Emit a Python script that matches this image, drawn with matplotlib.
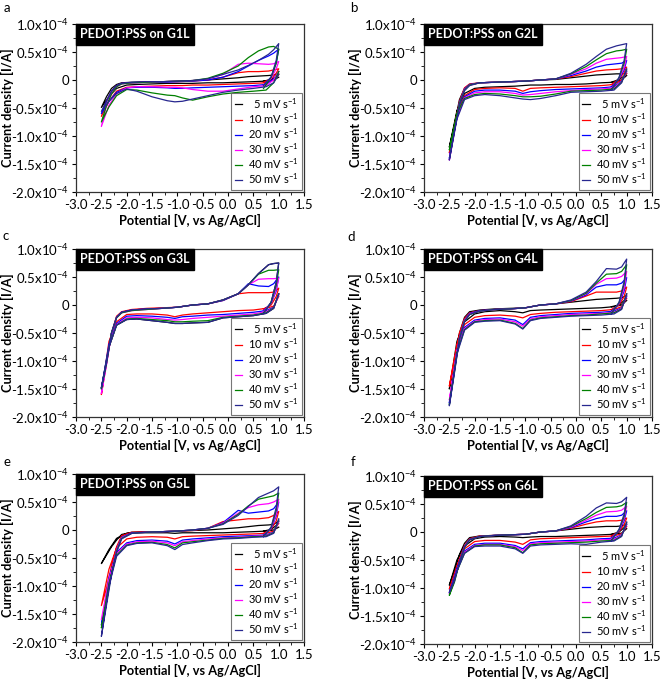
# Cyclic voltammograms of PEDOT:PSS on G1L..G6L at six scan rates
import matplotlib
matplotlib.use("Agg")
from matplotlib import pyplot as plt
from matplotlib.ticker import MultipleLocator, FixedLocator

plt.rcParams["font.family"] = ["Lato", "DejaVu Sans"]
plt.rcParams["mathtext.default"] = "regular"

# potential of each sample point along one cycle [V vs Ag/AgCl]:
# start at 1.0 V, sweep down to -2.5 V, back up to 1.0 V, then the turn-around
potential = [1.0, 0.9, 0.75, 0.5, 0.2, -0.1, -0.4, -0.7, -0.9, -1.05, -1.2, -1.5, -1.8, -2.0, -2.2, -2.35, -2.5,
             -2.4, -2.3, -2.2, -2.1, -1.9, -1.6, -1.3, -1.0, -0.7, -0.4, -0.1, 0.2, 0.4, 0.6, 0.8, 0.9, 1.0,
             0.95, 0.85, 0.7]

scan_rates = [5, 10, 20, 30, 40, 50]
colors = ["black", "red", "blue", "magenta", "green", "#27278f"]
samples = ["G1L", "G2L", "G3L", "G4L", "G5L", "G6L"]
letters = ["a", "b", "c", "d", "e", "f"]

# current in units of 1e-5 A, one list per scan rate (5..50 mV/s)
g1l = [
    [0.5, 0.0, -0.2, -0.3, -0.4, -0.5, -0.5, -0.6, -0.6, -0.6, -0.6, -0.7, -0.8, -0.9, -1.5, -3.0, -4.9,
     -3.0, -1.5, -0.8, -0.5, -0.4, -0.3, -0.3, -0.2, -0.1, 0.0, 0.2, 0.4, 0.6, 0.7, 0.8, 0.9, 1.1, 0.6, 0.1, -0.2],
    [1.0, 0.0, -0.5, -0.6, -0.7, -0.8, -0.9, -0.9, -1.0, -1.0, -1.0, -1.1, -1.2, -1.3, -2.0, -3.8, -6.5,
     -3.8, -2.0, -1.0, -0.6, -0.5, -0.4, -0.3, -0.3, -0.2, 0.0, 0.5, 1.3, 1.5, 1.5, 1.6, 1.8, 2.0, 1.2, 0.2, -0.4],
    [1.5, 0.2, -0.8, -1.0, -1.1, -1.2, -1.3, -1.4, -1.5, -1.5, -1.4, -1.3, -1.3, -1.4, -2.2, -3.8, -6.0,
     -3.8, -2.0, -1.0, -0.6, -0.5, -0.4, -0.4, -0.3, -0.2, 0.0, 0.5, 1.5, 2.5, 3.5, 4.3, 4.8, 5.5, 3.0, 0.5, -0.9],
    [1.5, 0.0, -1.0, -1.2, -1.6, -2.0, -2.0, -1.7, -1.4, -1.3, -1.3, -1.2, -1.2, -1.4, -2.5, -4.5, -8.3,
     -4.5, -2.5, -1.2, -0.7, -0.5, -0.4, -0.3, -0.2, -0.1, 0.2, 1.0, 2.8, 3.0, 2.9, 2.8, 2.9, 3.3, 2.0, 0.3, -1.0],
    [1.5, -0.5, -1.8, -2.0, -2.2, -2.5, -3.0, -3.6, -3.2, -2.8, -2.7, -2.3, -1.8, -1.7, -2.8, -4.8, -7.5,
     -4.6, -2.5, -1.2, -0.7, -0.5, -0.4, -0.3, -0.2, -0.1, 0.3, 1.2, 2.5, 4.0, 5.2, 5.9, 6.0, 5.5, 3.0, 0.5, -1.5],
    [1.0, -0.5, -1.2, -1.5, -1.8, -2.2, -2.8, -3.4, -3.8, -3.9, -3.7, -3.0, -2.0, -1.6, -2.4, -3.8, -5.6,
     -3.8, -2.0, -1.0, -0.6, -0.4, -0.3, -0.3, -0.2, -0.1, 0.2, 1.0, 1.8, 2.6, 3.5, 4.6, 5.4, 6.5, 3.5, 0.5, -1.0],
]
g2l = [
    [0.8, 0.0, -0.4, -0.5, -0.7, -0.8, -0.8, -0.9, -0.9, -1.0, -1.1, -1.2, -1.3, -1.5, -2.4, -5.5, -12.0,
     -8.0, -3.5, -1.5, -0.8, -0.5, -0.4, -0.3, -0.2, 0.0, 0.1, 0.4, 0.7, 0.9, 1.0, 1.1, 1.1, 1.2, 0.7, 0.1, -0.4],
    [1.2, 0.0, -0.8, -1.0, -1.1, -1.2, -1.3, -1.4, -1.5, -2.0, -1.5, -1.4, -1.5, -1.7, -2.8, -6.0, -13.0,
     -8.5, -3.8, -1.4, -0.7, -0.5, -0.4, -0.3, -0.2, 0.0, 0.2, 0.6, 1.2, 1.6, 1.8, 1.9, 2.0, 2.3, 1.3, 0.2, -0.8],
    [1.5, -0.2, -1.2, -1.4, -1.5, -1.6, -1.7, -1.9, -2.1, -2.4, -2.0, -1.8, -1.8, -2.0, -3.0, -6.5, -14.0,
     -8.8, -4.0, -1.6, -0.8, -0.5, -0.4, -0.3, -0.2, 0.0, 0.2, 0.8, 1.6, 2.3, 2.7, 2.9, 3.0, 3.5, 1.8, 0.2, -1.2],
    [1.6, -0.3, -1.4, -1.6, -1.7, -1.9, -2.1, -2.4, -2.6, -2.7, -2.4, -2.1, -2.1, -2.3, -3.2, -6.8, -14.3,
     -9.0, -4.2, -1.7, -0.9, -0.5, -0.4, -0.3, -0.2, 0.0, 0.2, 1.0, 2.0, 3.0, 3.7, 3.9, 4.0, 4.2, 2.2, 0.3, -1.5],
    [1.8, -0.4, -1.6, -1.8, -1.9, -2.0, -2.5, -2.9, -3.0, -3.0, -2.8, -2.5, -2.4, -2.6, -3.3, -6.0, -12.5,
     -8.5, -4.2, -1.8, -0.9, -0.5, -0.4, -0.3, -0.2, 0.0, 0.2, 1.1, 2.4, 3.6, 4.7, 5.2, 5.3, 5.5, 3.0, 0.4, -1.7],
    [2.0, -0.5, -1.8, -2.0, -2.1, -2.2, -2.8, -3.3, -3.5, -3.4, -3.2, -2.8, -2.6, -2.8, -3.5, -7.0, -14.3,
     -9.2, -4.5, -1.9, -1.0, -0.5, -0.4, -0.3, -0.2, 0.0, 0.2, 1.2, 2.8, 4.2, 5.5, 6.1, 6.3, 6.5, 3.5, 0.5, -1.8],
]
g3l = [
    [2.0, -0.6, -1.5, -1.9, -2.1, -2.3, -3.1, -3.2, -3.3, -3.3, -3.1, -2.8, -2.5, -2.6, -3.6, -7.5, -14.8,
     -10.3, -5.0, -2.2, -1.3, -0.9, -0.7, -0.6, -0.4, 0.0, 0.2, 0.9, 2.0, 3.6, 5.6, 7.2, 7.4, 7.5, 4.0, 0.5, -1.5],
    [1.5, -0.2, -0.6, -0.9, -1.0, -1.2, -1.4, -1.6, -1.8, -2.1, -1.8, -1.6, -1.6, -1.7, -3.0, -6.5, -16.0,
     -10.5, -5.0, -2.0, -1.2, -0.8, -0.6, -0.5, -0.4, 0.0, 0.2, 0.8, 2.0, 2.2, 2.2, 2.2, 2.3, 3.0, 1.5, 0.0, -0.7],
    [1.8, -0.4, -1.0, -1.3, -1.5, -1.7, -1.8, -2.0, -2.1, -2.4, -2.2, -2.0, -1.9, -2.0, -3.3, -7.0, -15.0,
     -10.5, -5.0, -2.2, -1.3, -0.9, -0.7, -0.6, -0.4, 0.0, 0.2, 0.8, 2.0, 3.8, 3.4, 3.3, 3.8, 5.0, 2.5, 0.3, -1.0],
    [1.8, -0.5, -1.2, -1.6, -1.8, -2.0, -2.2, -2.4, -2.6, -2.7, -2.6, -2.3, -2.2, -2.3, -3.5, -7.5, -15.8,
     -10.8, -5.2, -2.3, -1.4, -1.0, -0.8, -0.6, -0.4, 0.0, 0.2, 0.9, 2.0, 3.6, 4.6, 4.7, 4.7, 4.8, 2.8, 0.3, -1.2],
    [2.0, -0.5, -1.4, -1.8, -2.0, -2.2, -2.8, -2.9, -3.0, -3.0, -2.8, -2.6, -2.4, -2.5, -3.6, -7.5, -15.0,
     -10.5, -5.0, -2.3, -1.4, -1.0, -0.8, -0.6, -0.4, 0.0, 0.2, 0.9, 2.0, 3.6, 5.5, 6.2, 6.2, 6.3, 3.5, 0.4, -1.4],
    [2.0, -0.6, -1.5, -1.9, -2.1, -2.3, -3.1, -3.2, -3.3, -3.3, -3.1, -2.8, -2.5, -2.6, -3.6, -7.5, -14.8,
     -10.3, -5.0, -2.2, -1.3, -0.9, -0.7, -0.6, -0.4, 0.0, 0.2, 0.9, 2.0, 3.6, 5.6, 7.2, 7.4, 7.5, 4.0, 0.5, -1.5],
]
g4l = [
    [0.8, 0.0, -0.3, -0.5, -0.6, -0.7, -0.8, -0.9, -1.0, -1.4, -1.2, -1.0, -1.2, -1.6, -3.0, -6.5, -15.0,
     -10.0, -5.0, -2.2, -1.2, -0.9, -0.7, -0.6, -0.5, 0.0, 0.2, 0.5, 0.8, 1.0, 1.1, 1.2, 1.3, 1.7, 0.8, 0.0, -0.3],
    [1.2, -0.3, -0.8, -1.0, -1.1, -1.2, -1.3, -1.5, -1.7, -2.3, -2.0, -1.8, -1.9, -2.2, -3.5, -7.0, -14.5,
     -10.0, -5.0, -2.4, -1.4, -1.0, -0.8, -0.7, -0.5, 0.0, 0.2, 0.6, 1.6, 2.3, 2.3, 2.3, 2.5, 3.2, 1.5, 0.0, -0.8],
    [1.5, -0.5, -1.1, -1.3, -1.4, -1.5, -1.7, -1.9, -2.2, -3.5, -2.7, -2.3, -2.4, -2.7, -4.0, -8.0, -17.5,
     -11.5, -5.8, -2.7, -1.5, -1.0, -0.8, -0.7, -0.5, 0.0, 0.2, 0.7, 1.8, 3.2, 3.6, 3.6, 3.9, 4.9, 2.5, 0.2, -1.1],
    [1.8, -0.6, -1.3, -1.5, -1.6, -1.7, -1.9, -2.1, -2.5, -3.8, -3.0, -2.5, -2.6, -2.9, -4.2, -8.2, -17.0,
     -11.5, -5.9, -2.8, -1.6, -1.1, -0.8, -0.7, -0.5, 0.0, 0.2, 0.8, 2.0, 3.7, 4.7, 4.8, 5.1, 6.0, 3.0, 0.3, -1.3],
    [2.0, -0.7, -1.4, -1.6, -1.8, -1.9, -2.1, -2.3, -2.7, -4.2, -3.3, -2.7, -2.8, -3.0, -4.4, -8.5, -17.8,
     -12.0, -6.0, -2.9, -1.7, -1.1, -0.8, -0.7, -0.5, 0.0, 0.2, 0.8, 2.1, 3.9, 5.5, 5.6, 6.0, 7.2, 3.8, 0.4, -1.4],
    [2.0, -0.8, -1.6, -1.8, -1.9, -2.0, -2.2, -2.4, -2.8, -4.3, -3.4, -2.8, -2.9, -3.1, -4.5, -8.8, -18.0,
     -12.2, -6.1, -3.0, -1.7, -1.1, -0.8, -0.7, -0.5, 0.0, 0.2, 0.9, 2.3, 4.2, 6.5, 6.4, 6.8, 8.2, 4.2, 0.5, -1.6],
]
g5l = [
    [0.5, 0.0, -0.2, -0.3, -0.4, -0.5, -0.5, -0.5, -0.5, -0.6, -0.5, -0.5, -0.5, -0.6, -1.5, -3.5, -6.0,
     -4.5, -3.0, -1.8, -0.8, -0.4, -0.3, -0.3, -0.2, -0.1, 0.0, 0.2, 0.4, 0.6, 0.8, 0.9, 1.0, 1.6, 0.8, 0.1, -0.2],
    [1.2, -0.2, -0.6, -0.7, -0.8, -0.9, -1.0, -1.1, -1.2, -1.6, -1.3, -1.2, -1.3, -1.6, -3.2, -7.0, -13.5,
     -10.5, -6.5, -3.0, -1.0, -0.4, -0.3, -0.3, -0.2, -0.1, 0.3, 1.5, 1.8, 2.0, 2.0, 2.2, 2.6, 3.3, 1.6, 0.1, -0.6],
    [1.5, -0.4, -0.9, -1.0, -1.1, -1.2, -1.4, -1.6, -1.8, -2.5, -2.0, -1.8, -1.9, -2.3, -4.0, -8.5, -17.0,
     -12.5, -7.5, -3.5, -1.3, -0.5, -0.4, -0.3, -0.2, 0.0, 0.3, 1.3, 3.5, 3.0, 3.2, 3.4, 3.8, 5.0, 2.5, 0.2, -0.9],
    [1.6, -0.5, -1.0, -1.1, -1.3, -1.4, -1.6, -1.9, -2.1, -2.8, -2.3, -2.0, -2.1, -2.5, -4.2, -8.8, -16.0,
     -12.5, -7.5, -3.6, -1.4, -0.6, -0.4, -0.3, -0.2, 0.0, 0.3, 1.2, 3.0, 4.0, 4.5, 4.7, 5.0, 5.5, 2.8, 0.3, -1.0],
    [1.8, -0.5, -1.1, -1.2, -1.4, -1.5, -1.8, -2.1, -2.3, -3.2, -2.6, -2.2, -2.3, -2.7, -4.5, -9.5, -17.5,
     -13.0, -7.8, -3.8, -1.5, -0.6, -0.4, -0.3, -0.2, 0.0, 0.3, 1.1, 2.8, 4.3, 5.5, 5.9, 6.1, 6.6, 3.5, 0.4, -1.1],
    [2.0, -0.6, -1.2, -1.3, -1.5, -1.6, -1.9, -2.3, -2.6, -3.5, -2.8, -2.3, -2.4, -2.8, -4.7, -10.0, -19.0,
     -13.5, -8.0, -4.0, -1.6, -0.6, -0.4, -0.3, -0.2, 0.0, 0.3, 1.0, 2.6, 4.2, 5.8, 6.6, 7.0, 7.7, 4.0, 0.5, -1.2],
]
g6l = [
    [0.6, -0.2, -0.4, -0.5, -0.6, -0.7, -0.8, -0.8, -0.9, -1.0, -0.9, -0.8, -0.9, -1.2, -2.5, -5.0, -9.5,
     -7.0, -4.0, -2.0, -1.0, -0.7, -0.6, -0.5, -0.4, 0.0, 0.2, 0.5, 0.8, 0.9, 1.0, 1.0, 1.1, 1.4, 0.8, 0.0, -0.4],
    [1.0, -0.3, -0.7, -0.8, -0.9, -1.0, -1.1, -1.2, -1.4, -2.2, -1.8, -1.5, -1.5, -1.7, -3.0, -6.0, -10.2,
     -8.0, -4.8, -2.4, -1.2, -0.7, -0.6, -0.5, -0.4, 0.0, 0.2, 0.7, 1.4, 1.8, 2.0, 2.0, 2.1, 2.5, 1.3, 0.1, -0.7],
    [1.3, -0.5, -1.1, -1.2, -1.4, -1.5, -1.6, -1.7, -1.9, -3.0, -2.4, -2.0, -2.0, -2.2, -3.4, -6.5, -10.8,
     -8.5, -5.2, -2.6, -1.3, -0.8, -0.6, -0.5, -0.4, 0.0, 0.2, 0.8, 1.8, 2.4, 2.8, 2.8, 3.0, 3.8, 2.0, 0.2, -1.0],
    [1.5, -0.6, -1.3, -1.4, -1.6, -1.7, -1.8, -1.9, -2.1, -3.3, -2.6, -2.2, -2.2, -2.4, -3.6, -6.8, -11.0,
     -8.8, -5.4, -2.7, -1.4, -0.8, -0.6, -0.5, -0.4, 0.0, 0.2, 0.9, 2.1, 3.0, 3.6, 3.7, 3.9, 4.6, 2.4, 0.3, -1.2],
    [1.7, -0.7, -1.5, -1.6, -1.8, -1.9, -2.0, -2.1, -2.3, -3.7, -2.8, -2.3, -2.3, -2.5, -3.8, -7.0, -11.3,
     -9.0, -5.5, -2.8, -1.4, -0.8, -0.6, -0.5, -0.4, 0.0, 0.2, 1.0, 2.4, 3.5, 4.4, 4.5, 4.7, 5.3, 2.8, 0.4, -1.4],
    [1.8, -0.8, -1.6, -1.8, -2.2, -2.1, -2.2, -2.3, -2.5, -3.8, -3.0, -2.5, -2.5, -2.6, -3.8, -7.0, -10.8,
     -8.8, -5.4, -2.7, -1.4, -0.8, -0.6, -0.5, -0.4, 0.0, 0.2, 1.1, 2.8, 4.3, 5.2, 5.1, 5.4, 6.2, 3.2, 0.5, -1.6],
]

yticks = [-20, -15, -10, -5, 0, 5, 10]
yticklabels = ["-2.0x10$^{-4}$", "-1.5x10$^{-4}$", "-1.0x10$^{-4}$", "-0.5x10$^{-4}$", "0",
               "0.5x10$^{-4}$", "1.0x10$^{-4}$"]
xticks = [-3.0, -2.5, -2.0, -1.5, -1.0, -0.5, 0.0, 0.5, 1.0, 1.5]

# axes boxes in figure fraction [left, bottom, width, height]
boxes = [[0.1152, 0.7185, 0.3455, 0.2463], [0.6424, 0.7185, 0.3455, 0.2463],
         [0.1152, 0.3886, 0.3455, 0.2463], [0.6424, 0.3886, 0.3455, 0.2463],
         [0.1152, 0.0587, 0.3455, 0.2463], [0.6424, 0.0557, 0.3455, 0.2463]]
letter_pos = [(0.006, 0.988), (0.530, 0.988), (0.004, 0.654), (0.527, 0.652), (0.006, 0.322), (0.532, 0.322)]

fig = plt.figure(figsize=(6.6, 6.82), dpi=100)
for i, data in enumerate([g1l, g2l, g3l, g4l, g5l, g6l]):
    ax = fig.add_axes(boxes[i])
    for rate, color, current in zip(scan_rates, colors, data):
        label = ("  " if rate < 10 else "") + "{} mV s$^{{-1}}$".format(rate)
        ax.plot(potential, current, color=color, lw=0.9, label=label)
    ax.set_xlim(-3.0, 1.5)
    ax.set_ylim(-20, 10)
    ax.xaxis.set_major_locator(FixedLocator(xticks))
    ax.set_xticklabels(["{:.1f}".format(t) for t in xticks])
    ax.xaxis.set_minor_locator(MultipleLocator(0.25))
    ax.yaxis.set_major_locator(FixedLocator(yticks))
    ax.set_yticklabels(yticklabels)
    ax.yaxis.set_minor_locator(MultipleLocator(2.5))
    ax.tick_params(which="major", direction="out", length=3, width=0.8, labelsize=9.5, pad=2)
    ax.tick_params(which="minor", direction="out", length=2, width=0.6)
    for sp in ax.spines.values():
        sp.set_linewidth(0.9)
        sp.set_color("#333333")
    ax.set_xlabel("Potential [V, vs Ag/AgCl]", fontsize=9.2, fontweight="bold", va="center")
    ax.xaxis.set_label_coords(0.5, -0.17)
    ax.set_ylabel("Current density [I/A]", fontsize=9.2, fontweight="bold", va="center")
    ax.yaxis.set_label_coords(-0.30, 0.5)
    ax.annotate("PEDOT:PSS on " + samples[i], xy=(0, 1), xycoords="axes fraction",
                xytext=(3.2, -3.2), textcoords="offset points", ha="left", va="top",
                color="white", fontsize=9, fontweight="bold",
                bbox=dict(boxstyle="square,pad=0.35", fc="black", ec="black"))
    leg = ax.legend(loc="lower right", fontsize=8, frameon=True, fancybox=False, edgecolor="#555555",
                    handlelength=0.7, handletextpad=0.5, labelspacing=0.05, borderpad=0.3,
                    borderaxespad=0.2)
    leg.get_frame().set_linewidth(0.8)
    fig.text(letter_pos[i][0], letter_pos[i][1], letters[i], fontsize=9.5, va="center", ha="left")

fig.savefig("out.png", dpi=100)
